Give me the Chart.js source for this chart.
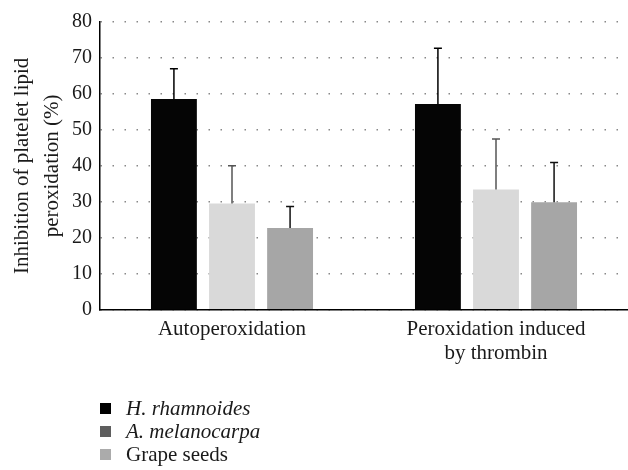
<!DOCTYPE html>
<html><head><meta charset="utf-8">
<script src="https://cdn.jsdelivr.net/npm/chart.js@4/dist/chart.umd.min.js"></script>
<style>
html,body{margin:0;padding:0;background:#fff;}
#wrap{position:relative;width:628px;height:470px;}
#legend{position:absolute;left:100px;top:397px;font-family:"Liberation Serif",serif;font-size:21px;color:#1a1a1a;}
.li{height:23px;line-height:23px;display:flex;align-items:center;}
.sw{width:11px;height:11px;margin-right:15px;}
</style></head>
<body>
<div id="wrap"><canvas id="c" width="628" height="470"></canvas>
<div id="legend"></div></div>
<script>
const categories = [["Autoperoxidation"], ["Peroxidation induced", "by thrombin"]];
const seriesNames = ["H. rhamnoides", "A. melanocarpa", "Grape seeds"];
const hRhamnoides = [58.6, 57.2];
const aMelanocarpa = [29.5, 33.4];
const grapeSeeds = [22.7, 29.9];
const errHRhamnoides = [8.4, 15.5];
const errAMelanocarpa = [10.5, 14.1];
const errGrapeSeeds = [6.0, 11.0];
const yTicks = [0, 10, 20, 30, 40, 50, 60, 70, 80];

const barColors = ["#050505", "#d9d9d9", "#a6a6a6"];
const errColors = ["#000000", "#555555", "#111111"];
const legendColors = ["#000000", "#5e5e5e", "#ababab"];
const legendItalic = [true, true, false];

const serif = '"Liberation Serif", serif';
const values = [hRhamnoides, aMelanocarpa, grapeSeeds];
const errors = [errHRhamnoides, errAMelanocarpa, errGrapeSeeds];

const errorBars = {
  id: 'errorBars',
  afterDatasetsDraw(chart) {
    const ctx = chart.ctx, ys = chart.scales.y;
    chart.data.datasets.forEach((ds, di) => {
      const meta = chart.getDatasetMeta(di);
      meta.data.forEach((el, i) => {
        const top = ys.getPixelForValue(ds.data[i] + errors[di][i]);
        ctx.save();
        ctx.strokeStyle = errColors[di];
        ctx.lineWidth = 1.5;
        ctx.beginPath();
        ctx.moveTo(el.x, el.y);
        ctx.lineTo(el.x, top);
        ctx.moveTo(el.x - 4, top);
        ctx.lineTo(el.x + 4, top);
        ctx.stroke();
        ctx.restore();
      });
    });
  }
};

new Chart(document.getElementById('c'), {
  type: 'bar',
  data: {
    labels: categories,
    datasets: seriesNames.map((n, i) => ({
      label: n, data: values[i], backgroundColor: barColors[i],
      borderWidth: 0, categoryPercentage: 0.66, barPercentage: 0.79
    }))
  },
  options: {
    responsive: false, animation: false,
    layout: {padding: {top: 22, right: 0, bottom: 96, left: 0}},
    plugins: {legend: {display: false}, tooltip: {enabled: false}},
    scales: {
      x: {
        grid: {display: false, drawTicks: false},
        border: {color: '#000', width: 1.5},
        ticks: {color: '#1a1a1a', font: {family: serif, size: 21, lineHeight: 1.15}, padding: 8, maxRotation: 0}
      },
      y: {
        min: 0, max: 80,
        afterBuildTicks(s) { s.ticks = yTicks.map(v => ({value: v})); },
        afterFit(s) { s.width = 100; },
        grid: {drawTicks: false, color: '#888', lineWidth: 1.5},
        border: {color: '#000', width: 1.5, dash: [1.5, 10.5]},
        ticks: {color: '#1a1a1a', font: {family: serif, size: 20}, padding: 8},
        title: {display: true, text: ['Inhibition of platelet lipid', 'peroxidation (%)'],
          color: '#1a1a1a', font: {family: serif, size: 21, lineHeight: 1.45}, padding: {top: 7, bottom: 0}}
      }
    }
  },
  plugins: [errorBars]
});

const lg = document.getElementById('legend');
seriesNames.forEach((n, i) => {
  const d = document.createElement('div'); d.className = 'li';
  const s = document.createElement('span'); s.className = 'sw'; s.style.background = legendColors[i];
  const t = document.createElement('span'); t.textContent = n; if (legendItalic[i]) t.style.fontStyle = 'italic';
  d.appendChild(s); d.appendChild(t); lg.appendChild(d);
});
</script>
</body></html>
